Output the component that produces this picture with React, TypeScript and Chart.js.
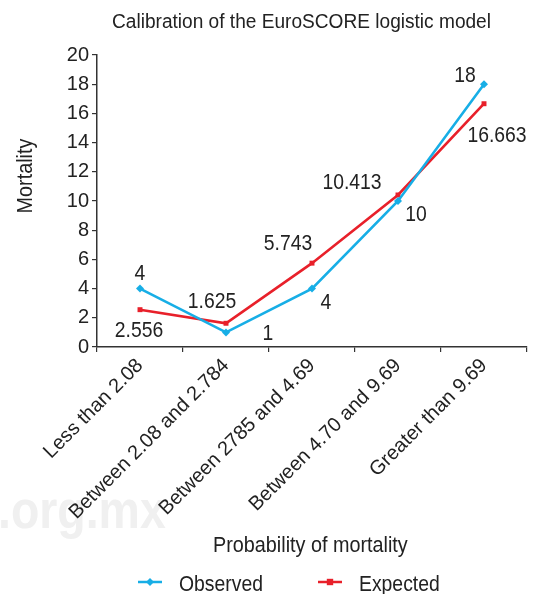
import React, { useEffect, useRef } from 'react';
import { Chart, registerables } from 'chart.js';

Chart.register(...registerables);

const categories = [
  'Less than 2.08',
  'Between 2.08 and 2.784',
  'Between 2785 and 4.69',
  'Between 4.70 and 9.69',
  'Greater than 9.69',
];
const observed = [4, 1, 4, 10, 18];
const expected = [2.556, 1.625, 5.743, 10.413, 16.663];
const yMin = 0;
const yMax = 20;
const yStep = 2;

const titleText = 'Calibration of the EuroSCORE logistic model';
const xTitle = 'Probability of mortality';
const yTitle = 'Mortality';
const seriesNames = ['Observed', 'Expected'];

const FONT = "'Liberation Sans', Arial, Helvetica, sans-serif";
const BLUE = '#17aee6';
const RED = '#e8202a';
const TEXT = '#222222';

// label offsets (style) relative to each point, in px
const obsOffsets = [[0, -17], [42, 0], [14, 12], [18, 12], [-19, -10]];
const expOffsets = [[-1, 19], [-14, -23], [-24, -21], [-46, -14], [13, 30]];

function scaledText(
  ctx: CanvasRenderingContext2D,
  text: string,
  x: number,
  y: number,
  sx: number,
  align: 'left' | 'center',
) {
  ctx.save();
  ctx.translate(x, y);
  ctx.scale(sx, 1);
  ctx.textAlign = align;
  ctx.fillText(text, 0, 0);
  ctx.restore();
}

function drawMarker(ctx: CanvasRenderingContext2D, style: string, x: number, y: number, r: number, color: string) {
  ctx.save();
  ctx.fillStyle = color;
  ctx.beginPath();
  if (style === 'rectRot') {
    ctx.moveTo(x, y - r);
    ctx.lineTo(x + r, y);
    ctx.lineTo(x, y + r);
    ctx.lineTo(x - r, y);
    ctx.closePath();
  } else {
    ctx.rect(x - r * 0.8, y - r * 0.8, r * 1.6, r * 1.6);
  }
  ctx.fill();
  ctx.restore();
}

const overlay = {
  id: 'overlay',
  beforeDraw(chart: any) {
    const ctx = chart.ctx as CanvasRenderingContext2D;
    ctx.save();
    ctx.fillStyle = '#f0f0f0';
    ctx.font = `bold 54px ${FONT}`;
    ctx.textBaseline = 'alphabetic';
    scaledText(ctx, '.org.mx', -2, 528, 0.86, 'left');
    ctx.restore();
  },
  afterDatasetsDraw(chart: any) {
    const ctx = chart.ctx as CanvasRenderingContext2D;
    ctx.save();
    ctx.font = `22px ${FONT}`;
    ctx.fillStyle = TEXT;
    ctx.textBaseline = 'alphabetic';
    const sets = [
      { idx: 0, offs: obsOffsets },
      { idx: 1, offs: expOffsets },
    ];
    sets.forEach(({ idx, offs }) => {
      const meta = chart.getDatasetMeta(idx);
      const vals = chart.data.datasets[idx].data as number[];
      meta.data.forEach((pt: any, i: number) => {
        const [dx, dy] = offs[i];
        scaledText(ctx, String(vals[i]), pt.x + dx, pt.y + dy + 7.9, 0.88, 'center');
      });
    });
    ctx.restore();
  },
  afterDraw(chart: any) {
    const ctx = chart.ctx as CanvasRenderingContext2D;
    ctx.save();
    ctx.fillStyle = TEXT;
    ctx.textBaseline = 'alphabetic';
    // title
    ctx.font = `20px ${FONT}`;
    scaledText(ctx, titleText, 112, 28, 0.955, 'left');
    // x title
    ctx.font = `22px ${FONT}`;
    scaledText(ctx, xTitle, 213, 552, 0.9, 'left');
    // y title
    ctx.save();
    ctx.translate(32, 176);
    ctx.rotate(-Math.PI / 2);
    scaledText(ctx, yTitle, 0, 0, 0.9, 'center');
    ctx.restore();
    // legend
    const items = [
      { x: 138, color: BLUE, style: 'rectRot', label: seriesNames[0] },
      { x: 318, color: RED, style: 'rect', label: seriesNames[1] },
    ];
    const ly = 582;
    items.forEach((it) => {
      ctx.strokeStyle = it.color;
      ctx.lineWidth = 2.5;
      ctx.beginPath();
      ctx.moveTo(it.x, ly);
      ctx.lineTo(it.x + 24, ly);
      ctx.stroke();
      drawMarker(ctx, it.style, it.x + 12, ly, 4, it.color);
      ctx.fillStyle = TEXT;
      ctx.font = `22px ${FONT}`;
      scaledText(ctx, it.label, it.x + 41, 591, 0.88, 'left');
    });
    ctx.restore();
  },
};

export default function App() {
  const ref = useRef<HTMLCanvasElement>(null);
  useEffect(() => {
    if (!ref.current) return;
    const chart = new Chart(ref.current, {
      type: 'line',
      data: {
        labels: categories,
        datasets: [
          {
            label: seriesNames[0],
            data: observed,
            borderColor: BLUE,
            backgroundColor: BLUE,
            borderWidth: 2.6,
            pointStyle: 'rectRot',
            pointRadius: 4,
            pointBorderWidth: 0,
            tension: 0,
            order: 0,
          },
          {
            label: seriesNames[1],
            data: expected,
            borderColor: RED,
            backgroundColor: RED,
            borderWidth: 2.6,
            pointStyle: 'rect',
            pointRadius: 3.5,
            pointBorderWidth: 0,
            tension: 0,
            order: 1,
          },
        ],
      },
      options: {
        responsive: false,
        animation: false,
        layout: { padding: { top: 55, right: 16, left: 0, bottom: 0 } },
        plugins: {
          legend: { display: false },
          title: { display: false },
          tooltip: { enabled: false },
        },
        scales: {
          x: {
            type: 'category',
            offset: true,
            grid: { display: true, drawOnChartArea: false, offset: true, tickLength: 5, color: '#333', lineWidth: 1.2 },
            border: { display: true, color: '#333', width: 1.5 },
            ticks: {
              autoSkip: false,
              minRotation: 45,
              maxRotation: 45,
              color: TEXT,
              padding: 2,
              font: { family: FONT, size: 20 },
            },
            afterFit: (scale: any) => {
              scale.height = 247;
            },
          },
          y: {
            min: yMin,
            max: yMax,
            grid: { display: true, drawOnChartArea: false, tickLength: 5, color: '#333', lineWidth: 1.2 },
            border: { display: true, color: '#333', width: 1.5 },
            ticks: {
              stepSize: yStep,
              autoSkip: false,
              color: TEXT,
              padding: 3,
              font: { family: FONT, size: 20 },
            },
            afterFit: (scale: any) => {
              scale.width = 97;
            },
          },
        },
      },
      plugins: [overlay],
    });
    return () => chart.destroy();
  }, []);
  return (
    <div style={{ position: 'fixed', left: 0, top: 0, width: 543, height: 594, background: '#fff' }}>
      <canvas ref={ref} width={543} height={594} style={{ width: 543, height: 594, display: 'block' }} />
    </div>
  );
}
